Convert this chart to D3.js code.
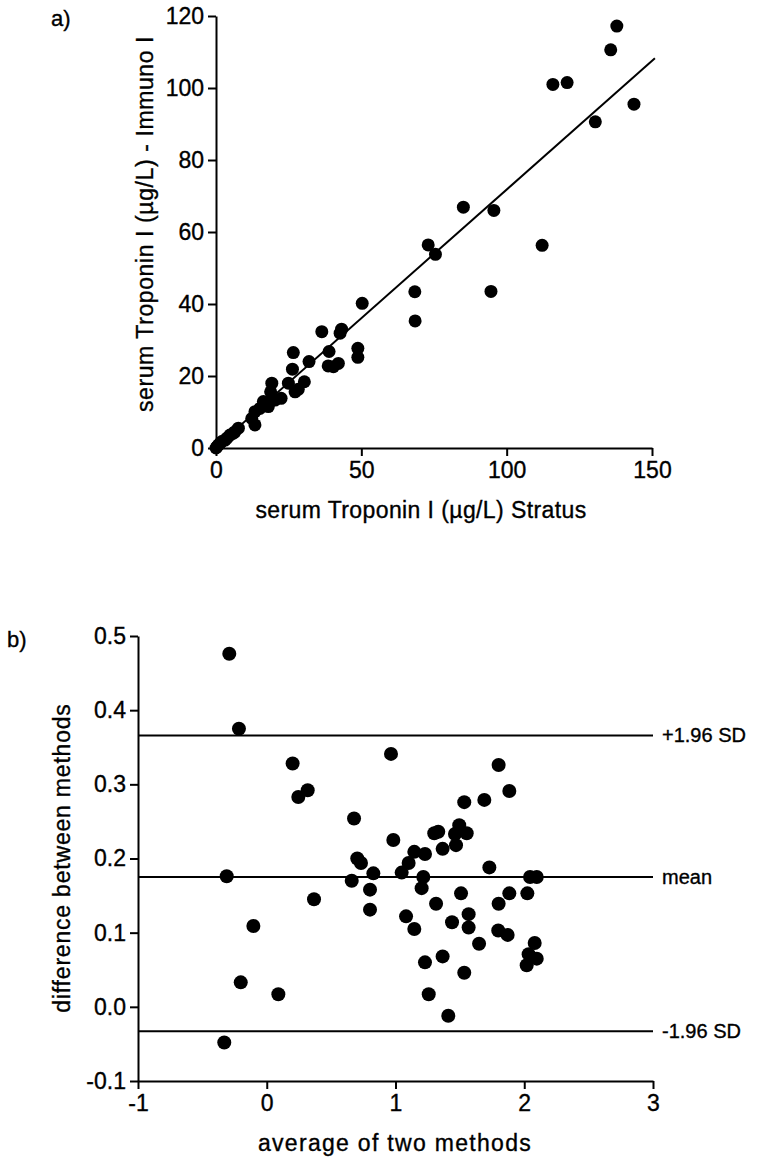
<!DOCTYPE html>
<html>
<head>
<meta charset="utf-8">
<script src="https://cdn.jsdelivr.net/npm/d3@7"></script>
<style>
  body { margin: 0; background: #fff; }
  svg text { font-family: "Liberation Sans", Arial, Helvetica, sans-serif; fill: #000; stroke: #000; stroke-width: 0.35px; }
</style>
</head>
<body>
<div id="chart"></div>
<script>
// ---- panel a data: Stratus vs Immuno (ug/L)
const stratusValues = [0.0, 0.3, 0.8, 1.4, 2.0, 3.1, 3.7, 4.8, 6.0, 6.5, 7.7, 12.3, 13.4, 13.4, 15.1, 16.3, 17.4, 18.0,
  18.8, 19.2, 20.3, 22.4, 24.9, 26.3, 26.6, 27.2, 28.3, 30.4, 32.0, 36.4, 38.6, 38.9, 40.4, 42.1, 42.7, 43.2,
  48.8, 48.8, 50.3, 68.4, 68.5, 73.0, 75.5, 85.1, 94.6, 95.6, 112.2, 115.9, 120.8, 130.5, 135.8, 137.9, 143.8];
const immunoValues = [0.0, 0.3, 0.8, 1.3, 1.8, 2.2, 2.7, 3.6, 4.1, 4.5, 5.5, 8.2, 6.4, 10.1, 11.0, 12.9, 12.4, 11.5,
  15.6, 18.0, 13.3, 13.8, 18.0, 21.9, 26.5, 15.6, 16.3, 18.4, 24.0, 32.3, 22.8, 26.8, 22.6, 23.5, 31.9, 33.0,
  27.7, 25.2, 40.2, 43.4, 35.3, 56.4, 53.8, 66.9, 43.5, 66.0, 56.3, 101.0, 101.5, 90.6, 110.6, 117.2, 95.5];
const fitSlope = 0.715;
const fitIntercept = 0.3;
const fitRange = [0, 151];

const aTicksX = [0, 50, 100, 150];
const aTicksY = [0, 20, 40, 60, 80, 100, 120];

// ---- panel b data: Bland-Altman
const averageValues = [-0.330, -0.311, -0.291, -0.216, -0.202, -0.104, 0.090, 0.201, 0.245, 0.318, 0.367,
  0.660, 0.678, 0.703, 0.732, 0.802, 0.802, 0.828, 0.965, 0.983, 1.048, 1.082, 1.102, 1.146, 1.146,
  1.203, 1.216, 1.229, 1.229, 1.258, 1.301, 1.315, 1.332, 1.366, 1.366, 1.410, 1.439, 1.462, 1.470,
  1.495, 1.509, 1.534, 1.534, 1.553, 1.568, 1.568, 1.649, 1.690, 1.729, 1.798, 1.801, 1.801, 1.871,
  1.884, 1.884, 2.019, 2.024, 2.034, 2.045, 2.081, 2.097, 2.097];
const differenceValues = [-0.048, 0.176, 0.476, 0.375, 0.033, 0.109, 0.017, 0.328, 0.283, 0.292, 0.145,
  0.170, 0.254, 0.200, 0.194, 0.158, 0.131, 0.180, 0.341, 0.225, 0.181, 0.122, 0.194, 0.209, 0.105,
  0.160, 0.175, 0.206, 0.060, 0.017, 0.234, 0.139, 0.236, 0.213, 0.068, -0.012, 0.114, 0.233, 0.218,
  0.245, 0.153, 0.276, 0.046, 0.234, 0.125, 0.107, 0.085, 0.279, 0.188, 0.103, 0.326, 0.139, 0.097,
  0.291, 0.153, 0.056, 0.153, 0.071, 0.175, 0.086, 0.175, 0.065];
const refLabels = ['+1.96 SD', 'mean', '-1.96 SD'];
const refValues = [0.366, 0.175, -0.033];

const bTicksX = [-1, 0, 1, 2, 3];
const bTicksY = [-0.1, 0.0, 0.1, 0.2, 0.3, 0.4, 0.5];

// ---- svg
const svg = d3.select('#chart').append('svg')
    .attr('width', 761)
    .attr('height', 1158);

function styleAxis(g) {
    g.selectAll('path, line').attr('stroke', '#000').attr('stroke-width', 2);
    g.selectAll('text').attr('font-size', 23).attr('fill', '#000')
        .style('font-family', '"Liberation Sans", Arial, sans-serif');
}

// ================= panel a =================
const xA = d3.scaleLinear().domain([0, 150]).range([216, 652]);
const yA = d3.scaleLinear().domain([0, 120]).range([448, 16]);

svg.append('g')
    .attr('transform', `translate(0, ${yA(0)})`)
    .call(d3.axisBottom(xA).tickValues(aTicksX).tickSize(8).tickSizeOuter(0).tickPadding(6).tickFormat(d => String(d)))
    .call(styleAxis);
svg.append('g')
    .attr('transform', `translate(${xA(0)}, 0)`)
    .call(d3.axisLeft(yA).tickValues(aTicksY).tickSize(8).tickSizeOuter(0).tickPadding(4).tickFormat(d => String(d)))
    .call(styleAxis);

// fitted line
svg.append('line')
    .attr('x1', xA(fitRange[0])).attr('y1', yA(fitSlope * fitRange[0] + fitIntercept))
    .attr('x2', xA(fitRange[1])).attr('y2', yA(fitSlope * fitRange[1] + fitIntercept))
    .attr('stroke', '#000').attr('stroke-width', 2);

svg.append('g').selectAll('circle')
    .data(stratusValues.map((v, i) => [v, immunoValues[i]]))
    .enter().append('circle')
    .attr('cx', d => xA(d[0]))
    .attr('cy', d => yA(d[1]))
    .attr('r', 6.5)
    .attr('fill', '#000');

svg.append('text').attr('x', 51).attr('y', 26).attr('font-size', 22).text('a)');
svg.append('text')
    .attr('transform', `translate(153, 224) rotate(-90)`)
    .attr('text-anchor', 'middle').attr('font-size', 23).attr('letter-spacing', 0.6)
    .text('serum Troponin I (\u00b5g/L) - Immuno I');
svg.append('text')
    .attr('x', 421).attr('y', 518)
    .attr('text-anchor', 'middle').attr('font-size', 23).attr('letter-spacing', 0.4)
    .text('serum Troponin I (\u00b5g/L) Stratus');

// ================= panel b =================
const xB = d3.scaleLinear().domain([-1, 3]).range([138, 653]);
const yB = d3.scaleLinear().domain([-0.1, 0.5]).range([1081, 636]);

svg.append('g')
    .attr('transform', `translate(0, ${yB(-0.1)})`)
    .call(d3.axisBottom(xB).tickValues(bTicksX).tickSize(8).tickSizeOuter(0).tickPadding(6).tickFormat(d => String(d)))
    .call(styleAxis);
svg.append('g')
    .attr('transform', `translate(${xB(-1)}, 0)`)
    .call(d3.axisLeft(yB).tickValues(bTicksY).tickSize(8).tickSizeOuter(0).tickPadding(4).tickFormat(d => d.toFixed(1)))
    .call(styleAxis);

// mean and limits of agreement
const refs = svg.append('g').selectAll('g')
    .data(refValues.map((v, i) => ({ v, label: refLabels[i] })))
    .enter().append('g');
refs.append('line')
    .attr('x1', xB(-1)).attr('x2', xB(3))
    .attr('y1', d => yB(d.v)).attr('y2', d => yB(d.v))
    .attr('stroke', '#000').attr('stroke-width', 2);
refs.append('text')
    .attr('x', xB(3) + 9).attr('y', d => yB(d.v))
    .attr('dy', '0.35em').attr('font-size', 20)
    .text(d => d.label);

svg.append('g').selectAll('circle')
    .data(averageValues.map((v, i) => [v, differenceValues[i]]))
    .enter().append('circle')
    .attr('cx', d => xB(d[0]))
    .attr('cy', d => yB(d[1]))
    .attr('r', 7)
    .attr('fill', '#000');

svg.append('text').attr('x', 7).attr('y', 647).attr('font-size', 22).text('b)');
svg.append('text')
    .attr('transform', `translate(70, 858) rotate(-90)`)
    .attr('text-anchor', 'middle').attr('font-size', 23).attr('letter-spacing', 0.8)
    .text('difference between methods');
svg.append('text')
    .attr('x', 395).attr('y', 1151)
    .attr('text-anchor', 'middle').attr('font-size', 23).attr('letter-spacing', 1.3)
    .text('average of two methods');
</script>
</body>
</html>
